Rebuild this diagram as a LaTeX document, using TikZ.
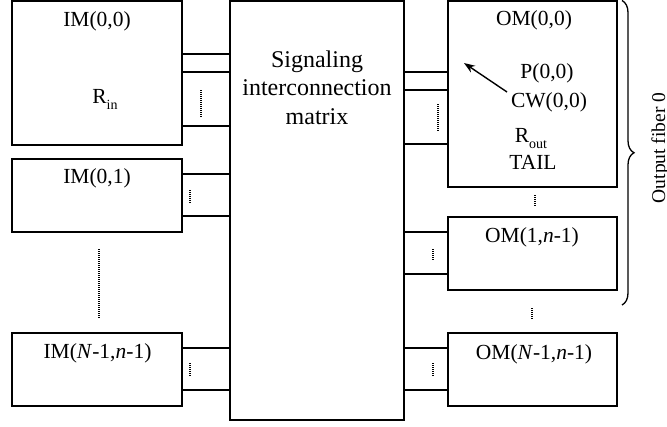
\documentclass[tikz,border=0pt]{standalone}
\usepackage{fontspec}
\setmainfont{Liberation Serif}
\usetikzlibrary{arrows.meta,decorations.pathreplacing}
\begin{document}
\begin{tikzpicture}[x=1pt,y=-1pt,
  blk/.style={draw,line width=1.5pt,inner sep=0,outer sep=0},
  lab/.style={font=\fontsize{21.5}{26}\selectfont, anchor=base, inner sep=0},
  wire/.style={line width=1.5pt},
  dotv/.style={line width=1.2pt, dash pattern=on 1pt off 1pt}]
\useasboundingbox (0,0) rectangle (667,426);
% blocks
\node[blk, minimum width=174pt, minimum height=419pt] (mat) at (317,210.5) {};
\node[blk, minimum width=170pt, minimum height=144pt] (im00) at (97,73) {};
\node[blk, minimum width=170pt, minimum height=73pt] (im01) at (97,195.5) {};
\node[blk, minimum width=170pt, minimum height=73pt] (imN) at (97,369.5) {};
\node[blk, minimum width=169pt, minimum height=186pt] (om00) at (532.5,94) {};
\node[blk, minimum width=169pt, minimum height=73pt] (om1) at (532.5,253.5) {};
\node[blk, minimum width=169pt, minimum height=73pt] (omN) at (532.5,369.5) {};
% labels
\node[lab] (tim00) at (97,26) {IM(0,0)};
\node[lab] (trin) at (105,103) {R\raisebox{-0.3em}{\fontsize{14}{14}\selectfont in}};
\node[lab] (tim01) at (97,183) {IM(0,1)};
\node[lab] (timN) at (97.5,358) {IM(\textit{N}-1,\textit{n}-1)};
\node[lab] (tom00) at (534,25) {OM(0,0)};
\node[lab] (tp) at (547,78) {P(0,0)};
\node[lab] (tcw) at (549,107) {CW(0,0)};
\node[lab] (trout) at (531,142) {R\raisebox{-0.3em}{\fontsize{14}{14}\selectfont out}};
\node[lab] (ttail) at (533,169) {TAIL};
\node[lab] (tom1) at (532,242) {OM(1,\textit{n}-1)};
\node[lab] (tomN) at (534,359) {OM(\textit{N}-1,\textit{n}-1)};
\node[font=\fontsize{24}{28.5}\selectfont, align=center, anchor=base, inner sep=0] (tmat) at (317,124)
  {Signaling\\interconnection\\matrix};
\node[font=\fontsize{19.5}{22}\selectfont, rotate=90, anchor=base, inner sep=0] (tof) at (665,148) {Output fiber 0};
% wires left
\foreach \yy in {54,72,126} \draw[wire] (im00.east |- 0,\yy) -- (mat.west |- 0,\yy);
\foreach \yy in {174,216} \draw[wire] (im01.east |- 0,\yy) -- (mat.west |- 0,\yy);
\foreach \yy in {348,390} \draw[wire] (imN.east |- 0,\yy) -- (mat.west |- 0,\yy);
% wires right
\foreach \yy in {72,90,144} \draw[wire] (mat.east |- 0,\yy) -- (om00.west |- 0,\yy);
\foreach \yy in {232,274} \draw[wire] (mat.east |- 0,\yy) -- (om1.west |- 0,\yy);
\foreach \yy in {348,390} \draw[wire] (mat.east |- 0,\yy) -- (omN.west |- 0,\yy);
% dotted marks
\draw[dotv] (201,90) -- (201,117);
\draw[dotv] (190,190) -- (190,203);
\draw[dotv] (190,363) -- (190,377);
\draw[dotv] (99,249) -- (99,319);
\draw[dotv] (438,104) -- (438,131);
\draw[dotv] (433,249) -- (433,261);
\draw[dotv] (433,363) -- (433,377);
\draw[dotv] (535,195) -- (535,207);
\draw[dotv] (532,308) -- (532,320);
% arrow
\coordinate (arT) at (507,92);
\coordinate (arH) at (464,63);
\draw[-{Stealth[length=11pt,width=8pt]}, line width=1.4pt] (arT) -- (arH);
% brace
\coordinate (brA) at (622,0.5);
\coordinate (brB) at (622,305);
\draw[decorate, decoration={brace, amplitude=12pt}, line width=1.3pt] (brA) -- (brB);
\end{tikzpicture}
\end{document}
